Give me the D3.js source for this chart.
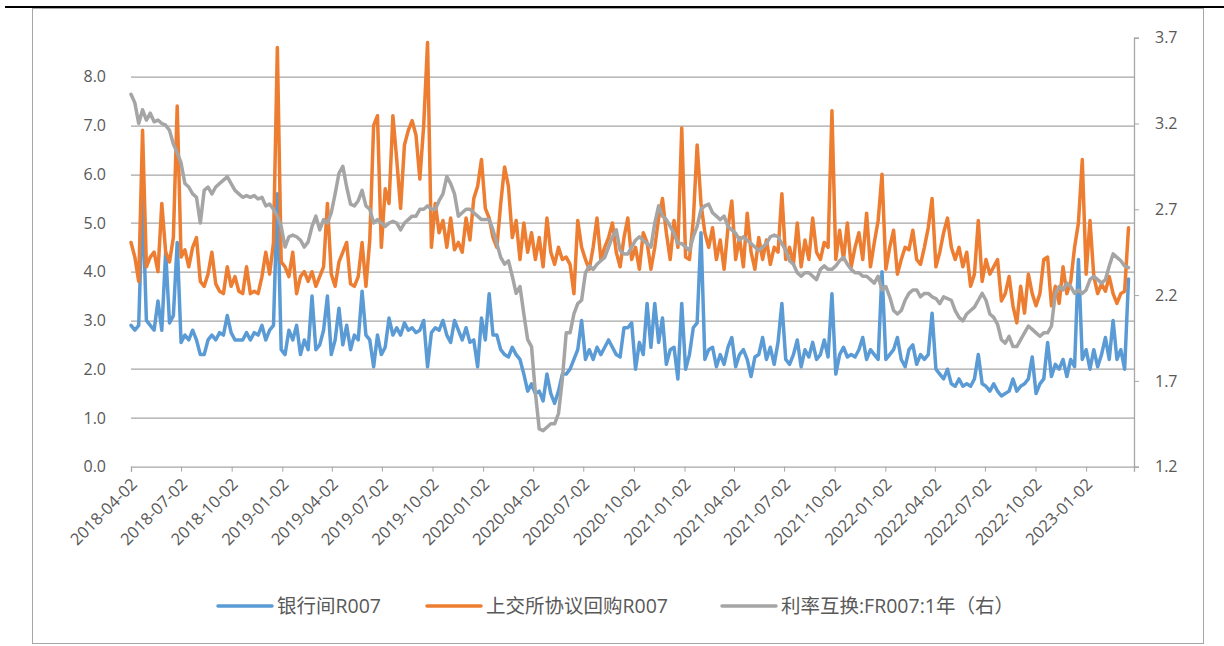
<!DOCTYPE html>
<html>
<head>
<meta charset="utf-8">
<script src="https://cdn.jsdelivr.net/npm/d3@7"></script>
<style>
  body { margin: 0; background: #fff; }
  svg { display: block; }
  text { font-family: "Open Sans", "Noto Sans CJK SC", sans-serif; fill: #595959; }
</style>
</head>
<body>
<svg id="chart" width="1224" height="646"></svg>
<script>
// weekly readings, first one on startDate
const startDate = "2018-04-02"

const tickLabels = ["2018-04-02", "2018-07-02", "2018-10-02", "2019-01-02", "2019-04-02",
    "2019-07-02", "2019-10-02", "2020-01-02", "2020-04-02", "2020-07-02", "2020-10-02",
    "2021-01-02", "2021-04-02", "2021-07-02", "2021-10-02", "2022-01-02", "2022-04-02",
    "2022-07-02", "2022-10-02", "2023-01-02"]

const leftTicks = [0, 1, 2, 3, 4, 5, 6, 7, 8]
const rightTicks = [1.2, 1.7, 2.2, 2.7, 3.2, 3.7]

const legendLabels = ["银行间R007", "上交所协议回购R007", "利率互换:FR007:1年（右）"]

const interbankR007 = [
    2.9, 2.8, 2.9, 5.5, 3.0, 2.9, 2.8, 3.4, 2.8, 4.4,
    2.95, 3.1, 4.6, 2.55, 2.7, 2.6, 2.8, 2.6, 2.3, 2.3,
    2.6, 2.7, 2.6, 2.75, 2.7, 3.1, 2.75, 2.6, 2.6, 2.6,
    2.75, 2.6, 2.75, 2.7, 2.9, 2.6, 2.8, 2.9, 5.6, 2.4,
    2.3, 2.8, 2.6, 2.9, 2.3, 2.6, 2.4, 3.5, 2.4, 2.5,
    2.8, 3.5, 2.3, 2.6, 3.25, 2.5, 2.9, 2.4, 2.7, 2.6,
    3.6, 2.7, 2.6, 2.05, 2.7,
    2.3, 2.45, 3.05, 2.7, 2.85,
    2.7, 2.95, 2.8, 2.85, 2.75, 2.8, 3.0, 2.05, 2.75, 2.85,
    2.8, 3.0, 2.7, 2.55, 3.0, 2.8, 2.6, 2.85, 2.55, 2.6,
    2.05, 3.05, 2.6, 3.55, 2.7, 2.7, 2.4, 2.3, 2.25, 2.45,
    2.3, 2.2, 1.9, 1.55, 1.7, 1.5, 1.55, 1.35, 1.9, 1.5,
    1.3, 1.55, 1.9, 1.9, 2.0, 2.2, 2.4, 3.0, 2.2, 2.4,
    2.2, 2.45, 2.3, 2.45, 2.6, 2.45, 2.3, 2.25, 2.85,
    2.85, 2.95, 2.0, 2.55, 2.3, 3.35, 2.45, 3.35, 2.55, 3.05,
    2.1, 2.4, 2.45, 1.8, 3.35, 2.0, 2.3, 2.85, 2.95, 4.8,
    2.2, 2.4, 2.45, 2.05, 2.3, 2.1, 2.45, 2.65, 2.05, 2.3,
    2.4, 2.2, 1.85, 2.25, 2.3, 2.65, 2.2, 2.45, 2.1, 2.55,
    3.35, 2.2, 2.1, 2.3, 2.6, 2.05, 2.4, 2.25, 2.55, 2.2,
    2.3, 2.6, 2.25, 3.55, 1.9, 2.3, 2.45, 2.25, 2.3, 2.25,
    2.4, 2.65, 2.2, 2.4, 2.3,
    2.2, 4.0, 2.2, 2.3, 2.4, 2.65, 2.2, 2.05, 2.4, 2.5,
    2.1, 2.3, 2.2, 2.3, 3.15, 2.0, 1.9, 1.8, 2.0, 1.7,
    1.65, 1.8, 1.65, 1.7, 1.65, 1.8, 2.3, 1.7, 1.65, 1.55,
    1.7, 1.55, 1.45, 1.5, 1.55, 1.8, 1.55, 1.65, 1.7, 1.8,
    2.25, 1.5, 1.7, 1.8, 2.55, 1.85, 2.1, 2.0, 2.2, 1.85,
    2.2, 2.05, 4.25, 2.2, 2.4, 2.0, 2.4, 2.05, 2.3, 2.65,
    2.2, 3.0, 2.2, 2.4, 2.0, 3.85
]

const sseRepoR007 = [
    4.6, 4.3, 3.8, 6.9, 4.1, 4.3, 4.4, 4.0, 5.4, 4.4,
    4.2, 4.7, 7.4, 4.3, 4.45, 4.1, 4.5, 4.7, 3.8, 3.7,
    3.95, 4.4, 3.75, 3.6, 3.55, 4.1, 3.7, 3.9, 3.6, 3.55,
    4.1, 3.55, 3.6, 3.55, 3.9, 4.4, 3.95, 4.6, 8.6, 4.2,
    4.1, 3.9, 4.4, 3.55, 3.9, 4.0, 3.8, 4.0, 3.7, 3.9,
    4.1, 5.4, 3.95, 3.7, 4.2, 4.4, 4.6, 3.75, 3.7, 3.9,
    4.6, 3.7, 4.65, 7.0, 7.2,
    4.5, 5.7, 5.4, 7.2, 6.3,
    5.3, 6.6, 6.9, 7.1, 6.8, 5.9, 7.0, 8.7, 4.5, 5.4,
    4.8, 5.05, 4.5, 5.1, 4.45, 4.6, 4.4, 5.1, 4.65, 5.5,
    5.75, 6.3, 5.3, 5.1, 4.7, 4.5, 5.4, 6.15, 5.75, 4.7,
    5.05, 4.25, 5.0, 4.4, 4.8, 4.25, 4.7, 4.1, 5.1, 4.4,
    4.15, 4.5, 4.25, 4.3, 4.15, 3.55, 5.05, 4.5, 4.25, 4.05,
    4.5, 5.1, 4.25, 4.5, 4.7, 5.0, 4.4, 4.1, 4.7,
    5.1, 4.25, 4.5, 4.05, 4.8, 4.6, 4.05, 4.5, 5.1, 5.5,
    4.8, 4.25, 5.05, 4.5, 6.95, 4.3, 4.25, 5.05, 6.6, 5.4,
    4.8, 4.5, 4.9, 4.25, 4.65, 4.05, 4.9, 5.45, 4.25, 4.7,
    4.1, 5.2, 4.4, 4.05, 4.7, 4.25, 4.65, 4.15, 4.5, 4.4,
    5.6, 4.25, 4.5, 4.15, 5.0, 4.1, 4.65, 4.25, 5.1, 4.4,
    4.25, 4.6, 4.5, 7.3, 4.25, 4.85, 4.25, 5.0, 4.1, 4.5,
    4.8, 4.25, 5.2, 4.1, 4.6,
    5.05, 6.0, 4.05, 4.5, 4.85, 3.95, 4.25, 4.5, 4.45, 4.85,
    4.25, 4.15, 4.5, 4.9, 5.5, 4.1, 4.4, 4.8, 5.1, 4.5,
    4.25, 4.5, 4.1, 4.4, 3.7, 3.95, 5.05, 3.8, 4.25, 3.95,
    4.1, 4.25, 3.4, 3.55, 3.9, 3.3, 2.95, 3.7, 3.15, 3.95,
    3.55, 3.3, 3.55, 4.25, 4.3, 3.3, 3.7, 3.35, 4.1, 3.55,
    3.8, 4.5, 5.0, 6.3, 3.95, 5.05, 3.9, 3.55, 3.75, 3.6,
    3.9, 3.55, 3.35, 3.55, 3.6, 4.9
]

const swapFR007 = [
    3.37, 3.32, 3.2, 3.28, 3.22, 3.26, 3.21, 3.22, 3.2, 3.19,
    3.16, 3.08, 3.03, 2.97, 2.85, 2.83, 2.79, 2.77, 2.62, 2.81,
    2.83, 2.79, 2.83, 2.85, 2.87, 2.89, 2.85, 2.81, 2.79, 2.77,
    2.78, 2.77, 2.78, 2.76, 2.77, 2.72, 2.73, 2.7, 2.66, 2.6,
    2.48, 2.54, 2.55, 2.54, 2.52, 2.48, 2.51, 2.6, 2.66, 2.58,
    2.64, 2.62, 2.68, 2.79, 2.91, 2.95, 2.83, 2.73, 2.72, 2.75,
    2.81, 2.72, 2.7, 2.62, 2.64,
    2.62, 2.6, 2.62, 2.63, 2.62,
    2.58, 2.62, 2.64, 2.66, 2.66, 2.7, 2.7, 2.72, 2.7, 2.7,
    2.75, 2.79, 2.89, 2.85, 2.79, 2.66, 2.68, 2.7, 2.7, 2.68,
    2.66, 2.64, 2.64, 2.64, 2.58, 2.5, 2.42, 2.38, 2.4, 2.31,
    2.21, 2.25, 2.09, 1.94, 1.9, 1.63, 1.42, 1.41, 1.43, 1.45,
    1.45, 1.51, 1.71, 1.98, 1.98, 2.09, 2.15, 2.17, 2.33, 2.37,
    2.35, 2.38, 2.4, 2.42, 2.48, 2.54, 2.58, 2.46, 2.44,
    2.44, 2.48, 2.52, 2.54, 2.52, 2.5, 2.48, 2.62, 2.72, 2.66,
    2.64, 2.6, 2.56, 2.5, 2.5, 2.48, 2.46, 2.54, 2.6, 2.7,
    2.72, 2.73, 2.68, 2.66, 2.64, 2.66, 2.6, 2.58, 2.56, 2.52,
    2.54, 2.52, 2.5, 2.48, 2.46, 2.48, 2.5, 2.54, 2.55, 2.54,
    2.5, 2.46, 2.4, 2.38, 2.33, 2.31, 2.33, 2.33, 2.31, 2.29,
    2.35, 2.37, 2.35, 2.35, 2.37, 2.4, 2.42, 2.38, 2.35, 2.33,
    2.33, 2.31, 2.31, 2.29, 2.27,
    2.31, 2.23, 2.25, 2.19, 2.11, 2.09, 2.11, 2.17, 2.21, 2.23,
    2.23, 2.19, 2.21, 2.21, 2.19, 2.18, 2.15, 2.19, 2.18, 2.17,
    2.11, 2.07, 2.05, 2.09, 2.11, 2.13, 2.17, 2.21, 2.17, 2.09,
    2.07, 2.03, 1.94, 1.92, 1.96, 1.9, 1.9, 1.94, 1.98, 2.02,
    2.0, 1.98, 1.96, 1.98, 1.98, 2.02, 2.21, 2.25, 2.23, 2.27,
    2.25, 2.21, 2.23, 2.21, 2.23, 2.29, 2.31, 2.29, 2.27, 2.29,
    2.37, 2.44, 2.42, 2.4, 2.37, 2.36
]

const colors = ["#5B9BD5", "#ED7D31", "#A5A5A5"]

const dimensions = {
    width: 1224,
    height: 646,
    margin: { top: 37.7, right: 90, bottom: 179.3, left: 131 },
}
dimensions.boundedWidth = dimensions.width - dimensions.margin.left - dimensions.margin.right
dimensions.boundedHeight = dimensions.height - dimensions.margin.top - dimensions.margin.bottom

const parseDate = d3.timeParse("%Y-%m-%d")
const start = parseDate(startDate)
const dates = interbankR007.map((d, i) => d3.timeDay.offset(start, 7 * i))

const xScale = d3.scaleTime()
    .domain([start, parseDate("2023-03-30")])
    .range([0, dimensions.boundedWidth])

const yLeft = d3.scaleLinear()
    .domain([0, 8.8])
    .range([dimensions.boundedHeight, 0])

const yRight = d3.scaleLinear()
    .domain([1.2, 3.7])
    .range([dimensions.boundedHeight, 0])

const svg = d3.select("#chart")

// outer frame + black rule on top
svg.append("rect")
    .attr("x", 32.5).attr("y", 8.5)
    .attr("width", 1171).attr("height", 635)
    .attr("fill", "none").attr("stroke", "#A6A6A6").attr("stroke-width", 1)
svg.append("line")
    .attr("x1", 5).attr("x2", 1224).attr("y1", 7).attr("y2", 7)
    .attr("stroke", "#000").attr("stroke-width", 2)

const bounds = svg.append("g")
    .attr("transform", `translate(${dimensions.margin.left},${dimensions.margin.top})`)

// gridlines
bounds.append("g")
    .selectAll("line")
    .data(leftTicks.slice(1))
    .join("line")
    .attr("x1", 0).attr("x2", dimensions.boundedWidth)
    .attr("y1", d => Math.round(yLeft(d)) + 0.5).attr("y2", d => Math.round(yLeft(d)) + 0.5)
    .attr("stroke", "#A6A6A6").attr("stroke-width", 1.3)

// left labels
bounds.append("g")
    .selectAll("text")
    .data(leftTicks)
    .join("text")
    .attr("x", -25)
    .attr("y", d => yLeft(d))
    .attr("dy", "0.35em")
    .attr("text-anchor", "end")
    .style("font-size", "16px")
    .text(d => d3.format(".1f")(d))

// right axis
const rightAxis = bounds.append("g")
    .attr("transform", `translate(${dimensions.boundedWidth},0)`)
    .call(d3.axisRight(yRight).tickValues(rightTicks).tickSize(5).tickPadding(16).tickFormat(d3.format(".1f")))
rightAxis.select(".domain").attr("stroke", "#A6A6A6").attr("stroke-width", 1.3)
rightAxis.selectAll(".tick line").attr("stroke", "#A6A6A6")
rightAxis.selectAll("text").style("font-size", "16px").attr("fill", "#595959")
    .style("font-family", '"Open Sans", sans-serif')

// bottom axis
const xAxis = bounds.append("g")
    .attr("transform", `translate(0,${dimensions.boundedHeight})`)
    .call(d3.axisBottom(xScale).tickValues(tickLabels.map(parseDate)).tickSize(5).tickFormat(d3.timeFormat("%Y-%m-%d")))
xAxis.select(".domain").attr("stroke", "#A6A6A6").attr("stroke-width", 1.3)
xAxis.selectAll(".tick line").attr("stroke", "#A6A6A6")
xAxis.selectAll("text")
    .attr("fill", "#595959")
    .style("font-size", "16.5px")
    .style("font-family", '"Open Sans", sans-serif')
    .attr("text-anchor", "end")
    .attr("dy", "0.35em")
    .attr("transform", "translate(-3,9) rotate(-45)")

// lines
const leftLine = d3.line().x((d, i) => xScale(dates[i])).y(d => yLeft(d))
const rightLine = d3.line().x((d, i) => xScale(dates[i])).y(d => yRight(d))

const series = [
    { values: interbankR007, line: leftLine, color: colors[0] },
    { values: sseRepoR007, line: leftLine, color: colors[1] },
    { values: swapFR007, line: rightLine, color: colors[2] },
]

bounds.append("g")
    .selectAll("path")
    .data(series)
    .join("path")
    .attr("d", d => d.line(d.values))
    .attr("fill", "none")
    .attr("stroke", d => d.color)
    .attr("stroke-width", 3.5)
    .attr("stroke-linejoin", "round")
    .attr("stroke-linecap", "round")

// legend
const legendX = [218, 427, 722]
const legend = svg.append("g")
    .selectAll("g")
    .data(legendLabels)
    .join("g")
    .attr("transform", (d, i) => `translate(${legendX[i]},606)`)
legend.append("line")
    .attr("x1", 0).attr("x2", 54)
    .attr("stroke", (d, i) => colors[i])
    .attr("stroke-width", 3.5)
    .attr("stroke-linecap", "round")
legend.append("text")
    .attr("x", 59)
    .attr("dy", "0.35em")
    .style("font-size", "19.5px")
    .text(d => d)
</script>
</body>
</html>
